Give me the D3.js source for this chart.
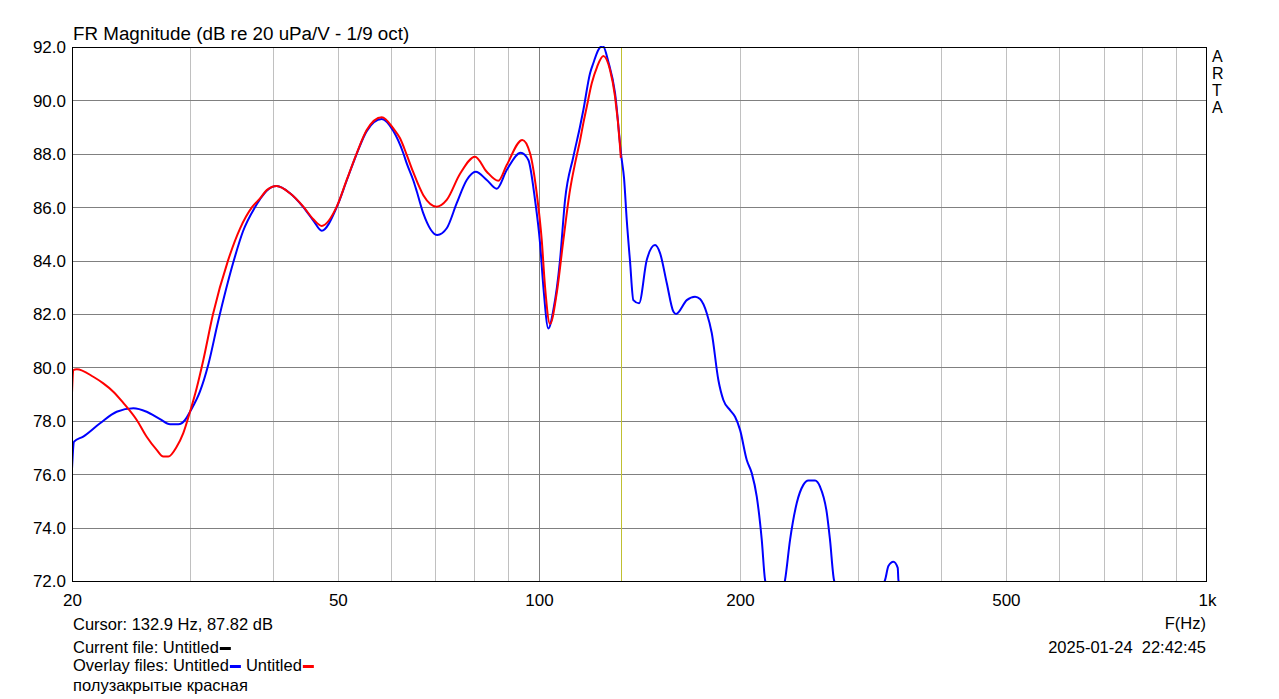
<!DOCTYPE html>
<html><head><meta charset="utf-8">
<script src="https://cdn.jsdelivr.net/npm/d3@7"></script>
<style>
html,body{margin:0;padding:0;background:#fff;}
svg text{font-family:Arial,"Liberation Sans",sans-serif;fill:#000;}
</style></head>
<body><svg id="c" width="1279" height="699"></svg>
<script>
const title = "FR Magnitude (dB re 20 uPa/V - 1/9 oct)";
const xTickValues = [20, 50, 100, 200, 500, 1000];
const xTickLabels = ["20", "50", "100", "200", "500", "1k"];
const xGridValues = [30,40,50,60,70,80,90,100,200,300,400,500,600,700,800,900];
const yTickValues = [72,74,76,78,80,82,84,86,88,90,92];
const cursorFreq = 132.9;

const blueF = [20.0,20.14,20.79,22.03,23.33,24.71,25.87,27.09,28.04,28.85,29.53,30.04,31.09,31.99,33.08,34.84,36.06,37.58,38.24,39.13,40.50,42.40,44.39,45.95,47.30,49.81,51.55,53.36,55.23,58.17,60.54,62.66,63.40,64.86,65.62,67.13,70.45,72.77,75.32,77.97,80.42,83.53,86.46,89.49,93.92,96.41,98.66,100.38,101.53,103.29,105.09,107.54,109.41,112.59,115.22,116.54,119.26,120.6,122.7,124.59,127.02,129.99,132.85,134.09,135.34,136.89,138.46,141.20,145.00,149.21,151.80,155.35,158.92,160.39,166.44,171.27,174.25,178.32,181.42,185.59,188.82,193.23,196.59,200.0,204.68,208.24,211.86,215.54,218.0,225.6,233.56,237.62,243.17,248.76,253.09,259.0,263.5,269.7,272.7,276.5,297.3,329.7,333.5,339.3,344.4,345.2,360,400,500,700,1000];
const blueDB = [76.2,77.22,77.41,77.91,78.34,78.47,78.34,78.06,77.87,77.87,78.03,78.34,79.1,80.1,81.7,83.9,85.1,86.0,86.3,86.62,86.79,86.52,86.0,85.5,85.12,86.0,87.0,88.0,88.85,89.30,88.85,88.02,87.64,87.0,86.6,85.77,84.96,85.21,86.15,87.02,87.33,87.02,86.69,87.39,88.04,87.77,86.27,84.65,83.02,81.46,82.15,84.02,86.27,87.89,89.02,89.64,91.02,91.39,91.89,92.05,91.45,90.27,87.89,87.08,85.52,83.96,82.52,82.40,84.02,84.58,84.28,83.16,82.09,82.00,82.52,82.65,82.56,82.03,81.29,79.53,78.78,78.40,78.15,77.66,76.53,76.04,75.16,73.54,72.04,70.9,72.04,73.54,74.92,75.60,75.76,75.76,75.53,74.55,73.54,72.04,70.5,72.04,72.56,72.72,72.49,72.04,70.5,68,66,64,62];

const redF = [20.0,20.09,20.33,21.52,22.28,23.06,23.87,25.00,25.87,26.78,27.40,27.87,28.69,29.35,30.04,30.74,31.45,32.52,34.24,35.69,37.20,38.24,39.13,40.50,42.40,44.39,45.95,47.30,49.81,51.55,53.36,55.23,58.17,60.54,61.95,63.40,64.86,67.13,70.31,72.77,76.19,80.23,83.53,86.94,89.49,94.44,96.98,99.24,100.97,102.12,103.89,106.32,108.78,111.31,113.25,115.22,116.54,117.90,119.96,122.2,124.85,127.77,129.99,132.25,132.6];
const redDB = [79.04,79.90,79.93,79.65,79.40,79.09,78.67,78.03,77.40,76.91,76.66,76.66,77.03,77.54,78.34,79.23,80.28,82.0,84.0,85.2,86.0,86.33,86.64,86.79,86.52,86.02,85.55,85.30,86.02,87.02,88.02,88.89,89.37,88.95,88.58,87.96,87.3,86.45,86.02,86.27,87.25,87.89,87.33,86.99,87.58,88.52,88.02,86.52,84.77,83.02,81.63,82.78,84.77,86.65,87.64,88.5,89.15,89.75,90.64,91.26,91.66,91.14,90.14,88.27,87.85];

const svg = d3.select("#c");
const L = 72, R = 1207, T = 47, B = 581;
const x = d3.scaleLog().domain([20, 1000]).range([L, R]);
const y = d3.scaleLinear().domain([72, 92]).range([B, T]);

// grid
const g = svg.append("g");
g.selectAll("line.v").data(xGridValues).enter().append("line")
  .attr("x1", d => Math.round(x(d)) + 0.5).attr("x2", d => Math.round(x(d)) + 0.5)
  .attr("y1", T).attr("y2", B)
  .attr("stroke", d => d === 100 ? "#808080" : "#c0c0c0").attr("stroke-width", 1);
g.selectAll("line.h").data(yTickValues.filter(d => d > 72 && d < 92)).enter().append("line")
  .attr("x1", L).attr("x2", R)
  .attr("y1", d => Math.round(y(d)) + 0.5).attr("y2", d => Math.round(y(d)) + 0.5)
  .attr("stroke", "#808080").attr("stroke-width", 1);

// cursor
svg.append("line").attr("x1", Math.round(x(cursorFreq)) + 0.5).attr("x2", Math.round(x(cursorFreq)) + 0.5)
  .attr("y1", T).attr("y2", B).attr("stroke", "#c0c030").attr("stroke-width", 1);

svg.append("clipPath").attr("id", "clip").append("rect")
  .attr("x", L).attr("y", T - 1).attr("width", R - L).attr("height", B - T + 1);

const line = d3.line().x(d => x(d[0])).y(d => y(d[1])).curve(d3.curveMonotoneX);
const plot = svg.append("g").attr("clip-path", "url(#clip)");
plot.append("path").datum(blueF.map((f, i) => [f, blueDB[i]]))
  .attr("d", line).attr("fill", "none").attr("stroke", "#0000ff").attr("stroke-width", 2);
plot.append("path").datum(redF.map((f, i) => [f, redDB[i]]))
  .attr("d", line).attr("fill", "none").attr("stroke", "#ff0000").attr("stroke-width", 2);

// frame
svg.append("rect").attr("x", L + 0.5).attr("y", T + 0.5).attr("width", R - L - 1).attr("height", B - T)
  .attr("fill", "none").attr("stroke", "#000").attr("stroke-width", 1);

// axes labels
const xAxis = d3.axisBottom(x).tickValues(xTickValues).tickFormat((d, i) => xTickLabels[i]).tickSize(0).tickPadding(0);
const xa = svg.append("g").attr("transform", `translate(0,${B})`).call(xAxis);
xa.select(".domain").remove();
xa.selectAll("text").attr("dy", null).attr("y", 25).attr("font-size", 17).attr("font-family", "Arial, Liberation Sans, sans-serif").attr("fill", "#000");

const yAxis = d3.axisLeft(y).tickValues(yTickValues).tickFormat(d3.format(".1f")).tickSize(0).tickPadding(0);
const ya = svg.append("g").attr("transform", `translate(${L - 6},0)`).call(yAxis);
ya.select(".domain").remove();
ya.selectAll("text").attr("dy", "0.35em").attr("font-size", 17).attr("font-family", "Arial, Liberation Sans, sans-serif").attr("fill", "#000");

svg.append("text").attr("x", 73).attr("y", 40).attr("font-size", 18.8).text(title);

// ARTA
["A","R","T","A"].forEach((c, i) => {
  svg.append("text").attr("x", 1212).attr("y", 62 + i * 17).attr("font-size", 16).text(c);
});

// bottom info
const fs = 16.5;
svg.append("text").attr("x", 73).attr("y", 630).attr("font-size", fs).text("Cursor: 132.9 Hz, 87.82 dB");
const t1 = svg.append("text").attr("x", 73).attr("y", 653).attr("font-size", fs).text("Current file: Untitled");
const w1 = t1.node().getComputedTextLength();
svg.append("rect").attr("x", 73 + w1 + 1).attr("y", 647).attr("width", 11).attr("height", 3).attr("fill", "#000");
const t2 = svg.append("text").attr("x", 73).attr("y", 671).attr("font-size", fs).text("Overlay files: Untitled");
const w2 = t2.node().getComputedTextLength();
svg.append("rect").attr("x", 73 + w2 + 1).attr("y", 665).attr("width", 11).attr("height", 3).attr("fill", "#0000ff");
const t3 = svg.append("text").attr("x", 73 + w2 + 17).attr("y", 671).attr("font-size", fs).text("Untitled");
const w3 = t3.node().getComputedTextLength();
svg.append("rect").attr("x", 73 + w2 + 17 + w3 + 1).attr("y", 665).attr("width", 11).attr("height", 3).attr("fill", "#ff0000");
svg.append("text").attr("x", 73).attr("y", 691).attr("font-size", fs).text("полузакрытые красная");

svg.append("text").attr("x", 1206).attr("y", 629).attr("text-anchor", "end").attr("font-size", fs).text("F(Hz)");
svg.append("text").attr("x", 1206).attr("y", 653).attr("text-anchor", "end").attr("font-size", fs).style("white-space", "pre").text("2025-01-24  22:42:45");
</script></body></html>
